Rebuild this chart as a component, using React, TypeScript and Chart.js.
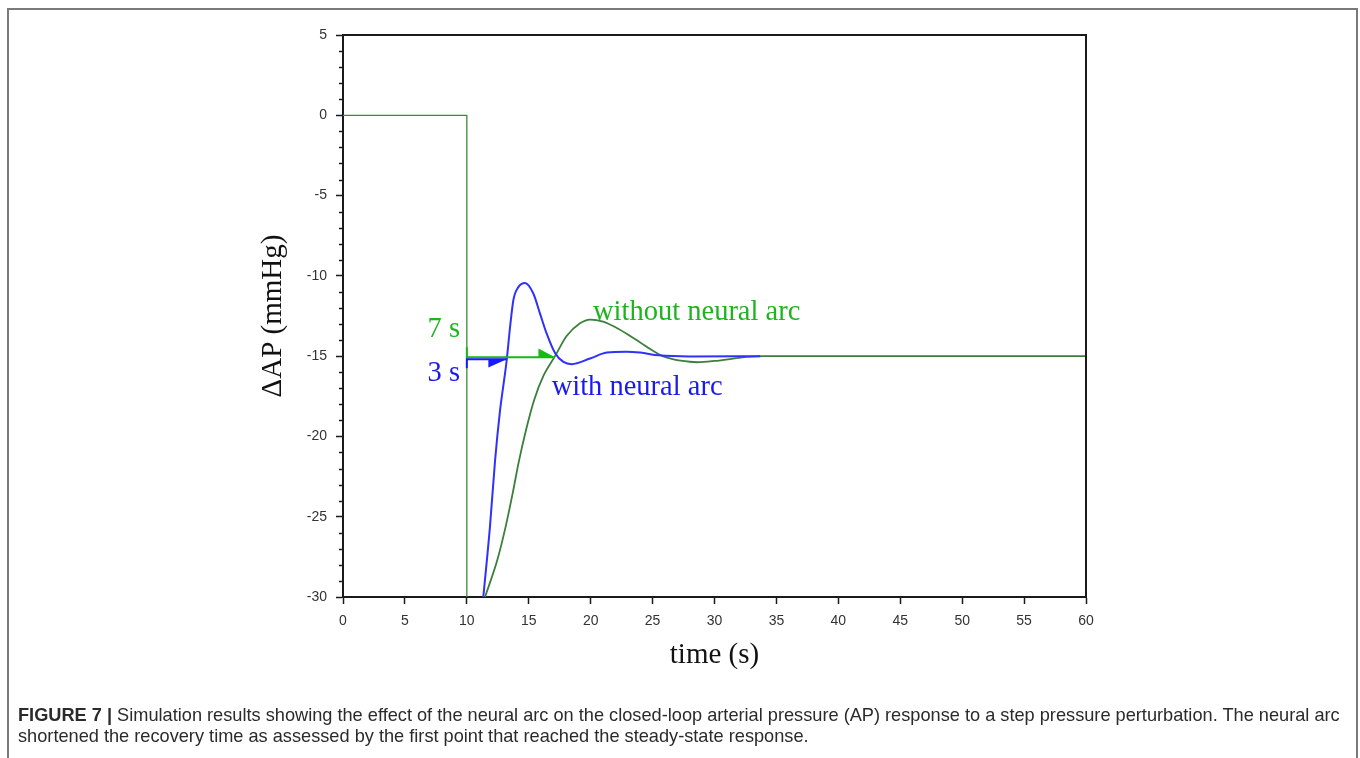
import React, { useEffect, useRef } from 'react';
import { Chart, registerables } from 'chart.js';

Chart.register(...registerables);

// ---- data ----
const stepTime = [0, 10, 10];
const stepValue = [0, 0, -30];

const withArcTime = [11.33, 11.87, 12.28, 12.68, 13.22, 13.49, 13.76, 14.16, 14.7, 15.37, 15.91, 16.45, 17.12, 17.8, 18.47, 19.95, 21.3, 22.9, 24.0, 25.5, 28.0, 33.7];
const withArcValue = [-30, -25.6, -21.5, -18.4, -15.25, -13.2, -11.5, -10.7, -10.44, -11.1, -12.35, -13.6, -14.8, -15.36, -15.5, -15.15, -14.78, -14.72, -14.78, -14.95, -15.02, -15.0];

const withoutArcTime = [11.47, 12.46, 13.14, 13.7, 14.19, 14.78, 15.45, 16.2, 17.12, 18.06, 19.14, 19.95, 21.0, 22.0, 23.0, 24.0, 25.0, 25.8, 26.7, 28.0, 28.6, 30.0, 31.5, 32.6, 34.0, 60];
const withoutArcValue = [-30, -27.7, -25.6, -23.55, -21.6, -19.6, -17.7, -16.2, -15.0, -13.75, -12.95, -12.72, -12.85, -13.2, -13.65, -14.15, -14.65, -15.0, -15.2, -15.35, -15.38, -15.3, -15.15, -15.05, -15.0, -15.0];

const xMin = 0;
const xMax = 60;
const xStep = 5;
const yMin = -30;
const yMax = 5;
const yStep = 5;
const yMinorStep = 1;

// recovery-time arrows (green: without neural arc, blue: with neural arc)
const arrowColors = ['#18b818', '#1a1aff'];
const arrowStart = [10, 10];
const arrowEnd = [17.12, 13.22];
const arrowLevel = [-15.07, -15.19];
const arrowBarEnd = [-14.45, -15.75];
const arrowHeadBase = [15.78, 11.74];
const arrowHeadEdge = [-14.53, -15.71];

// annotations
const noteTexts = ['7 s', '3 s', 'without neural arc', 'with neural arc'];
const noteTime = [9.45, 9.45, 20.19, 16.85];
const noteValue = [-13.82, -16.56, -12.76, -17.43];
const noteAlign = ['right', 'right', 'left', 'left'];
const noteColors = ['#1fb41f', '#1a1af0', '#1fb41f', '#1a1af0'];

const xTitle = 'time (s)';
const yTitle = '\u0394AP (mmHg)';
const captionBold = 'FIGURE 7 |';
const captionLine1 = ' Simulation results showing the effect of the neural arc on the closed-loop arterial pressure (AP) response to a step pressure perturbation. The neural arc';
const captionLine2 = 'shortened the recovery time as assessed by the first point that reached the steady-state response.';

const toPoints = (xs: number[], ys: number[]) => xs.map((x, i) => ({ x, y: ys[i] }));

const serif = "'Liberation Serif', 'Times New Roman', serif";
const sans = "'Liberation Sans', Arial, sans-serif";

const overlayPlugin = {
  id: 'overlay',
  afterDatasetsDraw(chart: any) {
    const { ctx, chartArea, scales } = chart;
    const xs = scales.x;
    const ys = scales.y;
    ctx.save();
    // frame top & right
    ctx.strokeStyle = '#1a1a1a';
    ctx.lineWidth = 2;
    ctx.beginPath();
    ctx.moveTo(chartArea.left, chartArea.top);
    ctx.lineTo(chartArea.right, chartArea.top);
    ctx.lineTo(chartArea.right, chartArea.bottom);
    ctx.stroke();
    // minor ticks on y axis
    ctx.lineWidth = 1.5;
    for (let v = yMin; v <= yMax; v += yMinorStep) {
      if (v % yStep === 0) continue;
      const py = Math.round(ys.getPixelForValue(v)) + 0.5;
      ctx.beginPath();
      ctx.moveTo(chartArea.left - 4, py);
      ctx.lineTo(chartArea.left, py);
      ctx.stroke();
    }
    // arrows
    for (let i = 0; i < arrowStart.length; i++) {
      const x0 = xs.getPixelForValue(arrowStart[i]);
      const x1 = xs.getPixelForValue(arrowEnd[i]);
      const yl = ys.getPixelForValue(arrowLevel[i]);
      const yb = ys.getPixelForValue(arrowBarEnd[i]);
      const xh = xs.getPixelForValue(arrowHeadBase[i]);
      const yh = ys.getPixelForValue(arrowHeadEdge[i]);
      ctx.strokeStyle = arrowColors[i];
      ctx.fillStyle = arrowColors[i];
      ctx.lineWidth = 2;
      ctx.beginPath();
      ctx.moveTo(x0, yb);
      ctx.lineTo(x0, yl);
      ctx.lineTo(x1, yl);
      ctx.stroke();
      ctx.beginPath();
      ctx.moveTo(xh, yl);
      ctx.lineTo(xh, yh);
      ctx.lineTo(x1, yl);
      ctx.closePath();
      ctx.fill();
    }
    // notes
    ctx.font = `28.5px ${serif}`;
    ctx.textBaseline = 'alphabetic';
    for (let i = 0; i < noteTexts.length; i++) {
      ctx.fillStyle = noteColors[i];
      ctx.textAlign = noteAlign[i] as CanvasTextAlign;
      ctx.fillText(noteTexts[i], xs.getPixelForValue(noteTime[i]), ys.getPixelForValue(noteValue[i]));
    }
    ctx.restore();
  },
};

export default function App() {
  const canvasRef = useRef<HTMLCanvasElement | null>(null);

  useEffect(() => {
    const canvas = canvasRef.current;
    if (!canvas) return;
    const chart = new Chart(canvas, {
      type: 'line',
      data: {
        datasets: [
          {
            label: 'with neural arc',
            data: toPoints(withArcTime, withArcValue),
            borderColor: '#3030ff',
            borderWidth: 2,
            pointRadius: 0,
            cubicInterpolationMode: 'monotone',
            order: 0,
          },
          {
            label: 'without neural arc',
            data: toPoints(withoutArcTime, withoutArcValue),
            borderColor: '#3a7f3a',
            borderWidth: 1.8,
            pointRadius: 0,
            cubicInterpolationMode: 'monotone',
            order: 1,
          },
          {
            label: 'step',
            data: toPoints(stepTime, stepValue),
            borderColor: '#3a8c3a',
            borderWidth: 1.3,
            pointRadius: 0,
            tension: 0,
            order: 2,
          },
        ],
      },
      options: {
        animation: false,
        responsive: false,
        devicePixelRatio: 1,
        layout: { padding: { left: 240, right: 274, top: 35, bottom: 80 } },
        plugins: { legend: { display: false }, tooltip: { enabled: false } },
        scales: {
          x: {
            type: 'linear',
            min: xMin,
            max: xMax,
            ticks: { stepSize: xStep, padding: 9, color: '#333', font: { family: sans, size: 14 } },
            grid: { drawOnChartArea: false, tickLength: 7, color: '#1a1a1a', tickWidth: 1.5 },
            border: { display: true, color: '#1a1a1a', width: 2 },
            title: { display: true, text: xTitle, color: '#111', font: { family: serif, size: 29 }, padding: { top: 0, bottom: 5.6 } },
            afterFit: (s: any) => { s.height = 81; },
          },
          y: {
            type: 'linear',
            min: yMin,
            max: yMax,
            ticks: { stepSize: yStep, padding: 9, color: '#333', font: { family: sans, size: 14 } },
            grid: { drawOnChartArea: false, tickLength: 7, color: '#1a1a1a', tickWidth: 1.5 },
            border: { display: true, color: '#1a1a1a', width: 2 },
            title: { display: true, text: yTitle, color: '#111', font: { family: serif, size: 29 }, padding: { top: 15.6, bottom: 0 } },
            afterFit: (s: any) => { s.width = 103; },
          },
        },
      },
      plugins: [overlayPlugin],
    } as any);
    return () => chart.destroy();
  }, []);

  return (
    <div style={{ position: 'absolute', left: 0, top: 0, width: 1360, height: 758, background: '#fff', overflow: 'hidden' }}>
      <div style={{ position: 'absolute', left: 7, top: 8, width: 1347, height: 800, borderTop: '2px solid #7a7a7a', borderLeft: '2px solid #7a7a7a', borderRight: '2px solid #7a7a7a' }} />
      <canvas ref={canvasRef} width={1360} height={758} style={{ position: 'absolute', left: 0, top: 0, width: 1360, height: 758 }} />
      <div style={{ position: 'absolute', left: 18, top: 705, fontFamily: sans, fontSize: 18.2, lineHeight: '21px', color: '#2b2b2b', whiteSpace: 'nowrap' }}>
        <b>{captionBold}</b>{captionLine1}<br />{captionLine2}
      </div>
    </div>
  );
}
